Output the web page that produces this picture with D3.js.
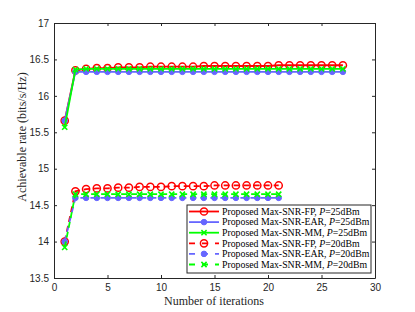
<!DOCTYPE html>
<html>
<head>
<meta charset="utf-8">
<script src="https://cdn.jsdelivr.net/npm/d3@7"></script>
<style>
  body { margin: 0; background: #fff; }
  svg { display: block; }
</style>
</head>
<body>
<script>
// iterations and achievable rates
var fp25  = [15.66, 16.35, 16.37, 16.38, 16.38, 16.39, 16.39, 16.39, 16.40, 16.40, 16.40, 16.40, 16.40, 16.41,
             16.41, 16.41, 16.41, 16.41, 16.41, 16.41, 16.42, 16.42, 16.42, 16.42, 16.42, 16.42, 16.42];
var ear25 = [15.66, 16.33, 16.33, 16.33, 16.33, 16.33, 16.33, 16.33, 16.33, 16.33, 16.33, 16.33, 16.33, 16.33,
             16.33, 16.33, 16.33, 16.33, 16.33, 16.33, 16.33, 16.33, 16.33, 16.33, 16.33, 16.33, 16.33];
var mm25  = [15.57, 16.36, 16.37, 16.37, 16.37, 16.37, 16.37, 16.37, 16.37, 16.37, 16.37, 16.37, 16.37, 16.37,
             16.37, 16.37, 16.37, 16.37, 16.37, 16.37, 16.37, 16.37, 16.37, 16.37, 16.37, 16.37, 16.37];
var fp20  = [14.00, 14.69, 14.72, 14.73, 14.73, 14.74, 14.74, 14.75, 14.75, 14.75, 14.76, 14.76, 14.76, 14.76,
             14.77, 14.77, 14.77, 14.77, 14.77, 14.77, 14.77];
var ear20 = [14.00, 14.60, 14.60, 14.60, 14.60, 14.60, 14.60, 14.60, 14.60, 14.60, 14.60, 14.60, 14.60, 14.60,
             14.60, 14.60, 14.60, 14.60, 14.60, 14.60, 14.60];
var mm20  = [13.92, 14.65, 14.65, 14.65, 14.65, 14.65, 14.65, 14.65, 14.65, 14.65, 14.65, 14.65, 14.65, 14.65,
             14.65, 14.65, 14.65, 14.65, 14.65, 14.65, 14.65];

var xTicks = [0, 5, 10, 15, 20, 25, 30];
var yTicks = [13.5, 14, 14.5, 15, 15.5, 16, 16.5, 17];

var seriesNames = ["Proposed Max-SNR-FP, ", "Proposed Max-SNR-EAR, ", "Proposed Max-SNR-MM, ",
                   "Proposed Max-SNR-FP, ", "Proposed Max-SNR-EAR, ", "Proposed Max-SNR-MM, "];
var seriesPower = ["=25dBm", "=25dBm", "=25dBm", "=20dBm", "=20dBm", "=20dBm"];

var red = "#ff0000", blue = "#6666ff", green = "#00ff00";
var series = [
  {vals: fp25,  color: red,   marker: "o", dash: null},
  {vals: ear25, color: blue,  marker: "dot", dash: null},
  {vals: mm25,  color: green, marker: "x", dash: null},
  {vals: fp20,  color: red,   marker: "o", dash: "6,4"},
  {vals: ear20, color: blue,  marker: "dot", dash: "6,4"},
  {vals: mm20,  color: green, marker: "x", dash: "6,4"}
];

var width = 415, height = 312;
var padL = 54, padR = 375, padT = 23, padB = 278;

var svg = d3.select("body").append("svg")
  .attr("width", width)
  .attr("height", height);

var x = d3.scaleLinear().domain([0, 30]).range([padL, padR]);
var y = d3.scaleLinear().domain([13.5, 17]).range([padB, padT]);

var axisColor = "#262626";
var fmt = d3.format("~g");

// axes with inward ticks, box all round
var gx = svg.append("g").attr("transform", "translate(0," + padB + ")")
  .call(d3.axisBottom(x).tickValues(xTicks).tickFormat(fmt).tickSizeInner(-3).tickSizeOuter(0).tickPadding(6));
var gxt = svg.append("g").attr("transform", "translate(0," + padT + ")")
  .call(d3.axisTop(x).tickValues(xTicks).tickSizeInner(-3).tickSizeOuter(0).tickFormat(""));
var gy = svg.append("g").attr("transform", "translate(" + padL + ",0)")
  .call(d3.axisLeft(y).tickValues(yTicks).tickFormat(fmt).tickSizeInner(-3).tickSizeOuter(0).tickPadding(5));
var gyr = svg.append("g").attr("transform", "translate(" + padR + ",0)")
  .call(d3.axisRight(y).tickValues(yTicks).tickSizeInner(-3).tickSizeOuter(0).tickFormat(""));

[gx, gxt, gy, gyr].forEach(function(g) {
  g.select(".domain").attr("stroke", axisColor).attr("stroke-width", 1);
  g.selectAll(".tick line").attr("stroke", axisColor);
  g.selectAll(".tick text")
    .attr("fill", axisColor)
    .style("font-family", "Liberation Sans, Arial, sans-serif")
    .style("font-size", "10px");
});

svg.append("text")
  .attr("x", 214)
  .attr("y", 305)
  .attr("text-anchor", "middle")
  .style("font-family", "Liberation Serif, Times New Roman, serif")
  .style("font-size", "12px")
  .attr("fill", axisColor)
  .text("Number of iterations");

svg.append("text")
  .attr("transform", "translate(26,137) rotate(-90)")
  .attr("text-anchor", "middle")
  .style("font-family", "Liberation Serif, Times New Roman, serif")
  .style("font-size", "12px")
  .attr("fill", axisColor)
  .text("Achievable rate (bits/s/Hz)");

function drawMarker(g, mx, my, s) {
  if (s.marker === "o") {
    g.append("circle").attr("cx", mx).attr("cy", my).attr("r", 3.6)
      .attr("fill", "none").attr("stroke", s.color).attr("stroke-width", 1.5);
  } else if (s.marker === "dot") {
    g.append("circle").attr("cx", mx).attr("cy", my).attr("r", 2.8)
      .attr("fill", s.color).attr("stroke", s.color).attr("stroke-width", 1);
  } else {
    var r = 2.6;
    g.append("path")
      .attr("d", "M" + (mx - r) + "," + (my - r) + "L" + (mx + r) + "," + (my + r) +
                 "M" + (mx - r) + "," + (my + r) + "L" + (mx + r) + "," + (my - r))
      .attr("stroke", s.color).attr("stroke-width", 1.6).attr("fill", "none");
  }
}

var line = d3.line()
  .x(function(d, i) { return x(i + 1); })
  .y(function(d) { return y(d); });

var plot = svg.append("g");
series.forEach(function(s) {
  var g = plot.append("g");
  g.append("path")
    .datum(s.vals)
    .attr("d", line)
    .attr("fill", "none")
    .attr("stroke", s.color)
    .attr("stroke-width", 1.8)
    .attr("stroke-dasharray", s.dash);
  s.vals.forEach(function(v, i) { drawMarker(g, x(i + 1), y(v), s); });
});

// legend
var lx = 187, ly = 205, lw = 184, lh = 68, rowH = 10.6;
var leg = svg.append("g");
leg.append("rect")
  .attr("x", lx).attr("y", ly).attr("width", lw).attr("height", lh)
  .attr("fill", "#fff").attr("stroke", axisColor).attr("stroke-width", 1);

series.forEach(function(s, i) {
  var cy = ly + 6.5 + i * rowH;
  leg.append("line")
    .attr("x1", lx + 2).attr("x2", lx + 32).attr("y1", cy).attr("y2", cy)
    .attr("stroke", s.color).attr("stroke-width", 1.8)
    .attr("stroke-dasharray", s.dash ? "6,7" : null);
  drawMarker(leg, lx + 17, cy, s);
  var t = leg.append("text")
    .attr("x", lx + 35).attr("y", cy + 3.3)
    .style("font-family", "Liberation Serif, Times New Roman, serif")
    .style("font-size", "9.8px")
    .attr("fill", "#000");
  t.append("tspan").text(seriesNames[i]);
  t.append("tspan").style("font-style", "italic").text("P");
  t.append("tspan").text(seriesPower[i]);
});
</script>
</body>
</html>
